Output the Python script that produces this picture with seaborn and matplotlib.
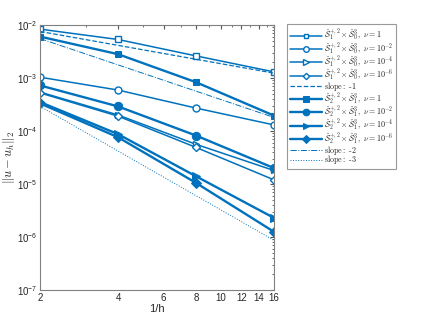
import numpy as np
import pandas as pd
import seaborn as sns
import matplotlib.pyplot as plt
from matplotlib.ticker import FixedLocator, NullFormatter, LogLocator

# 1/h 值
inv_h = [2, 4, 8, 16]

# S1 x S0 誤差
s1_nu1 = [8.3e-3, 5.3e-3, 2.6e-3, 1.3e-3]
s1_nu2 = [1.03e-3, 5.9e-4, 2.7e-4, 1.3e-4]
s1_nu4 = [5.4e-4, 2.0e-4, 5.6e-5, 1.8e-5]
s1_nu6 = [5.2e-4, 1.9e-4, 4.9e-5, 1.2e-5]

# S2 x S1 誤差
s2_nu1 = [6.0e-3, 2.8e-3, 8.3e-4, 1.95e-4]
s2_nu2 = [7.2e-4, 2.9e-4, 8.2e-5, 2.0e-5]
s2_nu4 = [3.5e-4, 8.7e-5, 1.4e-5, 2.3e-6]
s2_nu6 = [3.3e-4, 7.6e-5, 1.05e-5, 1.26e-6]

# 斜率參考線
slope_x = [2, 16]
slope1 = [7.5e-3, 1.23e-3]
slope2 = [5.5e-3, 1.8e-4]
slope3 = [2.9e-4, 8.7e-7]

nu_labels = ['1', '10^{-2}', '10^{-4}', '10^{-6}']

sns.set_style('white')
plt.rcParams['mathtext.fontset'] = 'cm'
plt.rcParams['font.family'] = ['Liberation Sans', 'DejaVu Sans']

blue = '#0072BD'
fig = plt.figure(figsize=(4.36, 3.27), dpi=100)
ax = fig.add_axes([0.092, 0.113, 0.536, 0.811])

markers = ['s', 'o', '>', 'D']
msizes = [4, 5, 5, 4]

s1_data = [s1_nu1, s1_nu2, s1_nu4, s1_nu6]
s2_data = [s2_nu1, s2_nu2, s2_nu4, s2_nu6]

s1_handles = []
for vals, m, ms in zip(s1_data, markers, msizes):
    sns.lineplot(x=inv_h, y=vals, ax=ax, color=blue, lw=1.1, marker=m,
                 markersize=ms, markerfacecolor='white', markeredgecolor=blue,
                 markeredgewidth=1.0)
    s1_handles.append(ax.lines[-1])

sns.lineplot(x=slope_x, y=slope1, ax=ax, color=blue, lw=0.9, linestyle='--')
h_s1 = ax.lines[-1]

s2_handles = []
for vals, m, ms in zip(s2_data, markers, msizes):
    sns.lineplot(x=inv_h, y=vals, ax=ax, color=blue, lw=1.7, marker=m,
                 markersize=ms + 1, markerfacecolor=blue, markeredgecolor=blue)
    s2_handles.append(ax.lines[-1])

sns.lineplot(x=slope_x, y=slope2, ax=ax, color=blue, lw=0.7, linestyle='-.')
h_s2 = ax.lines[-1]
sns.lineplot(x=slope_x, y=slope3, ax=ax, color=blue, lw=0.7, linestyle=':')
h_s3 = ax.lines[-1]

handles = s1_handles + [h_s1] + s2_handles + [h_s2, h_s3]
labels = [r'$\hat{\mathcal{S}}_1^{+,2}\times\hat{\mathcal{S}}_0^3,\ \nu=' + nu + '$' for nu in nu_labels] + \
    [r'$\mathrm{slope{:}\ \text{-}1}$'] + \
    [r'$\hat{\mathcal{S}}_2^{+,2}\times\hat{\mathcal{S}}_1^3,\ \nu=' + nu + '$' for nu in nu_labels] + \
    [r'$\mathrm{slope{:}\ \text{-}2}$', r'$\mathrm{slope{:}\ \text{-}3}$']

ax.set_xscale('log')
ax.set_yscale('log')
ax.set_xlim(2, 16)
ax.set_ylim(1e-7, 1e-2)
ax.xaxis.set_major_locator(FixedLocator([2, 4, 6, 8, 10, 12, 14, 16]))
ax.xaxis.set_major_formatter(plt.FuncFormatter(lambda v, p: '%d' % v))
ax.xaxis.set_minor_locator(FixedLocator([3, 5, 7, 9, 11, 13, 15]))
ax.xaxis.set_minor_formatter(NullFormatter())
ax.yaxis.set_major_locator(LogLocator(base=10, numticks=10))
ax.yaxis.set_minor_locator(LogLocator(base=10, subs=np.arange(2, 10), numticks=10))
ax.yaxis.set_minor_formatter(NullFormatter())

ax.tick_params(which='both', direction='in', top=True, right=True,
               labelsize=7, color='#555555', labelcolor='#262626', pad=2)
ax.tick_params(which='major', length=3)
ax.tick_params(which='minor', length=1.5)
for sp in ax.spines.values():
    sp.set_color('#808080')
    sp.set_linewidth(0.8)

ax.set_xlabel('1/h', fontsize=8, color='#262626', labelpad=1)
ax.set_ylabel(r'$\|u-u_h\|_2$', fontsize=9, color='#262626', labelpad=0)

leg = fig.legend(handles, labels, loc='upper left', bbox_to_anchor=(287 / 436, 1 - 24 / 327),
                 fontsize=5.8, frameon=True, fancybox=False, edgecolor='#808080',
                 handlelength=4.0, handletextpad=0.2, labelspacing=-0.38,
                 borderpad=0.35, borderaxespad=0, markerscale=0.8)
leg.get_frame().set_linewidth(0.8)

plt.savefig('out.png', dpi=100)
plt.close()
